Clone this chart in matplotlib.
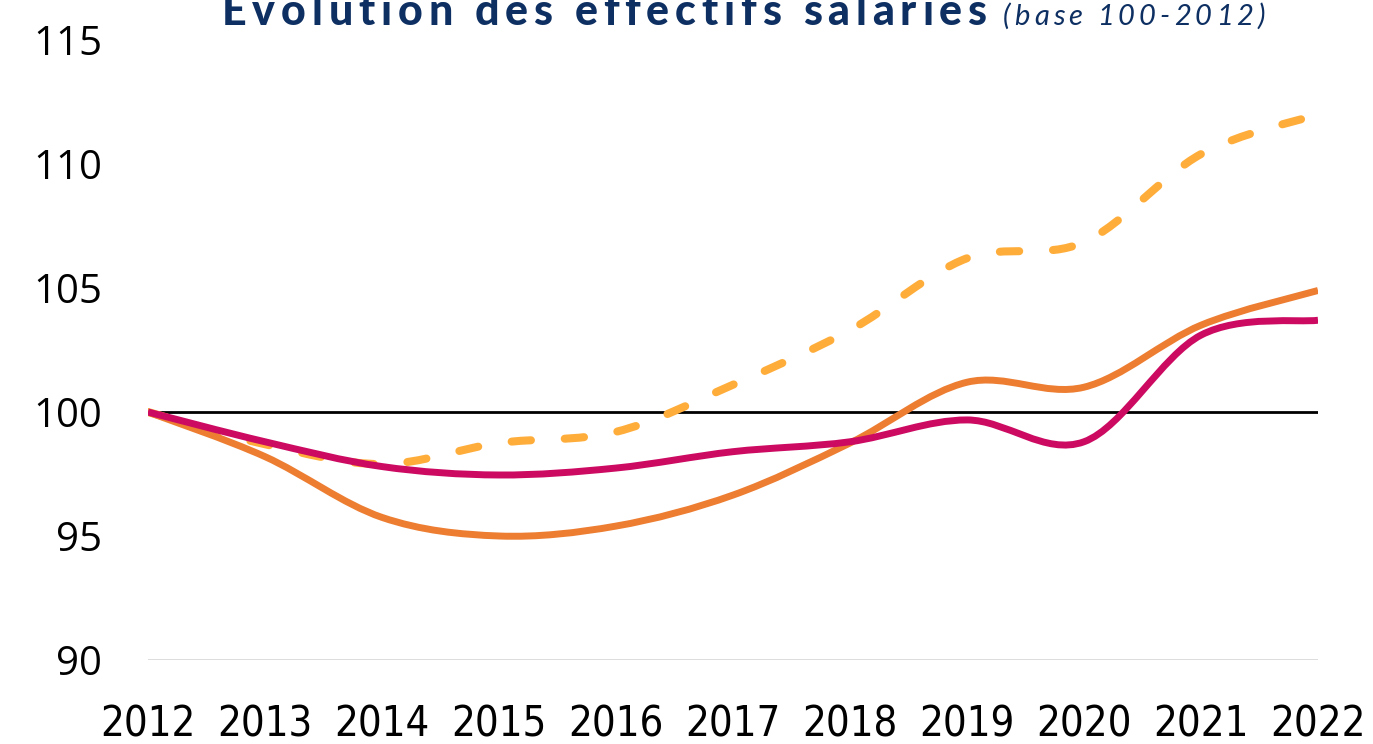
import matplotlib
matplotlib.use("Agg")
import matplotlib.pyplot as plt
from matplotlib.path import Path
from matplotlib.patches import PathPatch
import numpy as np

years = [2012, 2013, 2014, 2015, 2016, 2017, 2018, 2019, 2020, 2021, 2022]
serie_dashed = [100, 98.7, 97.9, 98.75, 99.2, 101.1, 103.3, 106.2, 106.85, 110.4, 112.0]
serie_orange = [100, 98.2, 95.75, 95.0, 95.4, 96.65, 98.75, 101.2, 101.0, 103.5, 104.9]
serie_magenta = [100, 98.8, 97.8, 97.46, 97.74, 98.4, 98.8, 99.68, 98.8, 103.1, 103.7]
yticks = [90, 95, 100, 105, 110, 115]
title_main = "Évolution des effectifs salariés"
title_sub = "(base 100-2012)"

W, H = 1373, 744
fig = plt.figure(figsize=(W / 100, H / 100), dpi=100)
ax = fig.add_axes([148 / W, (H - 660) / H, 1170 / W, 620 / H])
ax.set_xlim(2012, 2022)
ax.set_ylim(90, 115)


def smooth_path(xs, ys):
    xs = np.asarray(xs, float)
    ys = np.asarray(ys, float)
    n = len(xs)
    verts = [(xs[0], ys[0])]
    codes = [Path.MOVETO]
    for i in range(n - 1):
        p0 = np.array([xs[max(i - 1, 0)], ys[max(i - 1, 0)]])
        p1 = np.array([xs[i], ys[i]])
        p2 = np.array([xs[i + 1], ys[i + 1]])
        p3 = np.array([xs[min(i + 2, n - 1)], ys[min(i + 2, n - 1)]])
        c1 = p1 + (p2 - p0) / 6
        c2 = p2 - (p3 - p1) / 6
        verts += [tuple(c1), tuple(c2), tuple(p2)]
        codes += [Path.CURVE4] * 3
    return Path(verts, codes)


ax.axhline(90, color="#D9D9D9", lw=2, zorder=1)
ax.axhline(100, color="black", lw=2, zorder=2)

ax.add_patch(PathPatch(smooth_path(years, serie_dashed), fill=False, edgecolor="#FFAD3A",
                       lw=5.8, linestyle=(0, (2.4, 4.2)), capstyle="round", zorder=3))
ax.add_patch(PathPatch(smooth_path(years, serie_orange), fill=False, edgecolor="#ED7D31",
                       lw=5, capstyle="butt", zorder=4))
ax.add_patch(PathPatch(smooth_path(years, serie_magenta), fill=False, edgecolor="#CC0A62",
                       lw=5, capstyle="butt", zorder=5))

for s in ax.spines.values():
    s.set_visible(False)
ax.set_yticks(yticks)
ax.set_yticklabels([str(v) for v in yticks], fontsize=29, family=["Open Sans", "DejaVu Sans"])
ax.set_xticks(years)
ax.set_xticklabels([str(v) for v in years], fontsize=30,
                   family=["Liberation Sans Narrow", "DejaVu Sans Condensed", "DejaVu Sans"],
                   fontstretch="condensed")
ax.tick_params(axis="y", length=0, pad=33)
ax.tick_params(axis="x", length=0, pad=31)

renderer = fig.canvas.get_renderer()


def spaced_text(x0, y0, s, spacing, **kw):
    """Draw text char by char with extra letter spacing (pixels)."""
    probe = fig.text(0, 0, "|", **kw)
    bar_w = probe.get_window_extent(renderer).width
    probe.remove()
    for i, ch in enumerate(s):
        pre = fig.text(0, 0, s[:i] + "|", **kw)
        off = pre.get_window_extent(renderer).width - bar_w if i > 0 else 0
        pre.remove()
        fig.text((x0 + off + i * spacing) / W, y0, ch, ha="left", va="baseline", **kw)


spaced_text(222, 1 - 25 / H, title_main, 5.8, fontsize=31, fontweight="black",
            family=["Lato", "DejaVu Sans"], color="#0D2F62")
spaced_text(1003, 1 - 25 / H, title_sub, 4.0, fontsize=21, style="italic", fontweight="normal",
            family=["Lato", "DejaVu Sans"], color="#0D2F62")

fig.savefig("out.png", dpi=100)
